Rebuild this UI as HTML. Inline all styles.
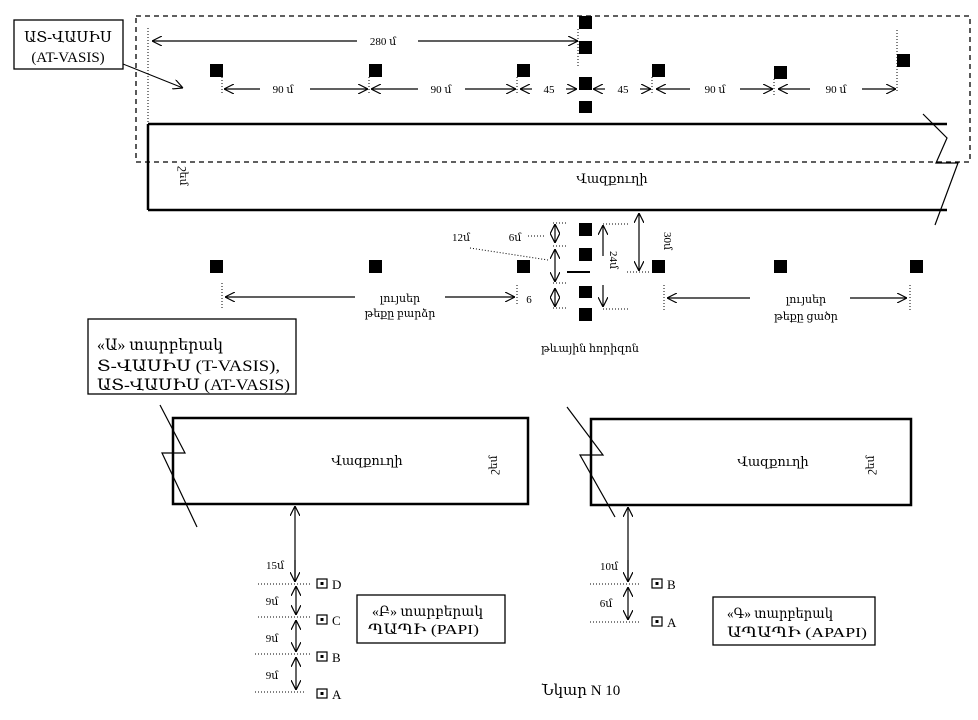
<!DOCTYPE html>
<html><head><meta charset="utf-8">
<style>
html,body{margin:0;padding:0;background:#fff;}
svg{display:block;}
text{font-family:"Liberation Serif","DejaVu Serif",serif;fill:#000;}
</style></head>
<body>
<svg width="978" height="720" viewBox="0 0 978 720" xmlns="http://www.w3.org/2000/svg">
<defs>
<marker id="a" viewBox="0 0 10 10" refX="10" refY="5" markerWidth="10" markerHeight="10" markerUnits="userSpaceOnUse" orient="auto-start-reverse">
<path d="M0,0 L10,5 L0,10" fill="none" stroke="#000" stroke-width="1.2"/>
</marker>
</defs>
<g stroke="#000" fill="none">
<rect x="136" y="16" width="834" height="146" stroke-dasharray="5,4" stroke-width="1.3"/>
<rect x="14" y="20" width="109" height="49" stroke-width="1.3" fill="#fff"/>
<line x1="123" y1="64" x2="183" y2="88" stroke-width="1" marker-end="url(#a)"/>
<line x1="148" y1="124" x2="947" y2="124" stroke-width="2.5"/>
<line x1="148" y1="210" x2="947" y2="210" stroke-width="2.5"/>
<line x1="148" y1="124" x2="148" y2="210" stroke-width="2.5"/>
<polyline points="923,114 947,138 936,163 958,163 935,225" stroke-width="1.2"/>
<g stroke-dasharray="1,2" stroke-width="1">
<line x1="148" y1="28" x2="148" y2="124"/>
<line x1="222" y1="77" x2="222" y2="95"/>
<line x1="369" y1="77" x2="369" y2="95"/>
<line x1="517" y1="77" x2="517" y2="95"/>
<line x1="578" y1="29" x2="578" y2="66"/>
<line x1="652" y1="77" x2="652" y2="95"/>
<line x1="774" y1="79" x2="774" y2="95"/>
<line x1="897" y1="30" x2="897" y2="92"/>
</g>
<line x1="152" y1="41" x2="357" y2="41" stroke-width="1.2" marker-start="url(#a)"/>
<line x1="418" y1="41" x2="578" y2="41" stroke-width="1.2" marker-end="url(#a)"/>
<g stroke-width="1.2">
<line x1="224" y1="89" x2="260" y2="89" marker-start="url(#a)"/>
<line x1="310" y1="89" x2="368" y2="89" marker-end="url(#a)"/>
<line x1="371" y1="89" x2="418" y2="89" marker-start="url(#a)"/>
<line x1="465" y1="89" x2="516" y2="89" marker-end="url(#a)"/>
<line x1="520" y1="89" x2="532" y2="89" marker-start="url(#a)"/>
<line x1="566" y1="89" x2="577" y2="89" marker-end="url(#a)"/>
<line x1="593" y1="89" x2="605" y2="89" marker-start="url(#a)"/>
<line x1="640" y1="89" x2="651" y2="89" marker-end="url(#a)"/>
<line x1="656" y1="89" x2="690" y2="89" marker-start="url(#a)"/>
<line x1="740" y1="89" x2="773" y2="89" marker-end="url(#a)"/>
<line x1="778" y1="89" x2="810" y2="89" marker-start="url(#a)"/>
<line x1="862" y1="89" x2="896" y2="89" marker-end="url(#a)"/>
</g>
<g stroke-dasharray="1,2" stroke-width="1">
<line x1="553" y1="223" x2="566" y2="223"/>
<line x1="553" y1="246" x2="566" y2="246"/>
<line x1="553" y1="283" x2="566" y2="283"/>
<line x1="553" y1="308" x2="566" y2="308"/>
<line x1="603" y1="224" x2="628" y2="224"/>
<line x1="603" y1="309" x2="628" y2="309"/>
<line x1="627" y1="272" x2="650" y2="272"/>
<line x1="470" y1="248" x2="548" y2="260"/>
<line x1="528" y1="236" x2="545" y2="236"/>
<line x1="222" y1="283" x2="222" y2="308"/>
<line x1="517" y1="285" x2="517" y2="305"/>
<line x1="664" y1="285" x2="664" y2="310"/>
<line x1="910" y1="285" x2="910" y2="310"/>
</g>
<g stroke-width="1.2">
<line x1="555" y1="224" x2="555" y2="243" marker-start="url(#a)" marker-end="url(#a)"/>
<line x1="555" y1="249" x2="555" y2="282" marker-start="url(#a)" marker-end="url(#a)"/>
<line x1="555" y1="288" x2="555" y2="307" marker-start="url(#a)" marker-end="url(#a)"/>
<line x1="603" y1="256" x2="603" y2="225" marker-end="url(#a)"/>
<line x1="603" y1="285" x2="603" y2="307" marker-end="url(#a)"/>
<line x1="639" y1="213" x2="639" y2="271" marker-start="url(#a)" marker-end="url(#a)"/>
<line x1="225" y1="297" x2="355" y2="297" marker-start="url(#a)"/>
<line x1="445" y1="297" x2="515" y2="297" marker-end="url(#a)"/>
<line x1="667" y1="298" x2="750" y2="298" marker-start="url(#a)"/>
<line x1="850" y1="298" x2="907" y2="298" marker-end="url(#a)"/>
</g>
<line x1="567" y1="272" x2="590" y2="272" stroke-width="2"/>
<rect x="88" y="319" width="208" height="75" stroke-width="1.3" fill="#fff"/>
<rect x="173" y="418" width="355" height="86" stroke-width="2.5"/>
<polyline points="160,405 185,453 162,453 197,527" stroke-width="1.2"/>
<line x1="295" y1="580" x2="295" y2="506" stroke-width="1.2" marker-end="url(#a)"/>
<rect x="591" y="419" width="320" height="86" stroke-width="2.5"/>
<polyline points="567,407 603,455 580,455 615,517" stroke-width="1.2"/>
<line x1="628" y1="582" x2="628" y2="507" stroke-width="1.2" marker-end="url(#a)"/>
<line x1="628" y1="560" x2="628" y2="582" stroke-width="1.2" marker-end="url(#a)"/>
<line x1="295" y1="560" x2="295" y2="582" stroke-width="1.2" marker-end="url(#a)"/>
<g stroke-dasharray="1,2" stroke-width="1">
<line x1="258" y1="584" x2="312" y2="584"/>
<line x1="258" y1="617" x2="312" y2="617"/>
<line x1="255" y1="654" x2="312" y2="654"/>
<line x1="255" y1="692" x2="305" y2="692"/>
<line x1="590" y1="584" x2="640" y2="584"/>
<line x1="590" y1="622" x2="640" y2="622"/>
</g>
<g stroke-width="1.2">
<line x1="296" y1="586" x2="296" y2="615" marker-start="url(#a)" marker-end="url(#a)"/>
<line x1="296" y1="620" x2="296" y2="652" marker-start="url(#a)" marker-end="url(#a)"/>
<line x1="296" y1="657" x2="296" y2="690" marker-start="url(#a)" marker-end="url(#a)"/>
<line x1="628" y1="587" x2="628" y2="620" marker-start="url(#a)" marker-end="url(#a)"/>
</g>
<g stroke-width="1.2">
<rect x="317" y="579" width="10" height="9"/>
<rect x="317" y="615" width="10" height="9"/>
<rect x="317" y="652" width="10" height="9"/>
<rect x="317" y="689" width="10" height="9"/>
<rect x="652" y="579" width="10" height="9"/>
<rect x="652" y="617" width="10" height="9"/>
</g>
<rect x="357" y="595" width="148" height="48" stroke-width="1.3"/>
<rect x="713" y="597" width="162" height="48" stroke-width="1.3"/>
</g>
<g fill="#000">
<rect x="320.5" y="582" width="3" height="3"/>
<rect x="320.5" y="618" width="3" height="3"/>
<rect x="320.5" y="655" width="3" height="3"/>
<rect x="320.5" y="692" width="3" height="3"/>
<rect x="655.5" y="582" width="3" height="3"/>
<rect x="655.5" y="620" width="3" height="3"/>
<rect x="210" y="64" width="13" height="13"/>
<rect x="369" y="64" width="13" height="13"/>
<rect x="517" y="64" width="13" height="13"/>
<rect x="579" y="16" width="13" height="13"/>
<rect x="579" y="41" width="13" height="13"/>
<rect x="579" y="77" width="13" height="13"/>
<rect x="579" y="101" width="13" height="12"/>
<rect x="652" y="64" width="13" height="13"/>
<rect x="774" y="66" width="13" height="13"/>
<rect x="897" y="54" width="13" height="13"/>
<rect x="210" y="260" width="13" height="13"/>
<rect x="369" y="260" width="13" height="13"/>
<rect x="517" y="260" width="13" height="13"/>
<rect x="579" y="223" width="13" height="13"/>
<rect x="579" y="248" width="13" height="13"/>
<rect x="579" y="286" width="13" height="12"/>
<rect x="579" y="308" width="13" height="13"/>
<rect x="652" y="260" width="13" height="13"/>
<rect x="774" y="260" width="13" height="13"/>
<rect x="910" y="260" width="13" height="13"/>
</g>
<g font-size="15">
<text x="68" y="42" text-anchor="middle">ԱՏ-ՎԱՍԻՍ</text>
<text x="68" y="62" text-anchor="middle">(AT-VASIS)</text>
</g>
<g font-size="16">
<text x="97" y="350" textLength="126" lengthAdjust="spacingAndGlyphs">«Ա» տարբերակ</text>
<text x="97" y="371" textLength="183" lengthAdjust="spacingAndGlyphs">Տ-ՎԱՍԻՍ   (T-VASIS),</text>
<text x="97" y="390" textLength="193" lengthAdjust="spacingAndGlyphs">ԱՏ-ՎԱՍԻՍ (AT-VASIS)</text>
</g>
<g font-size="11">
<text x="383" y="45" text-anchor="middle">280 մ</text>
<text x="283" y="93" text-anchor="middle">90 մ</text>
<text x="441" y="93" text-anchor="middle">90 մ</text>
<text x="549" y="93" text-anchor="middle">45</text>
<text x="623" y="93" text-anchor="middle">45</text>
<text x="715" y="93" text-anchor="middle">90 մ</text>
<text x="836" y="93" text-anchor="middle">90 մ</text>
<text x="461" y="241" text-anchor="middle">12մ</text>
<text x="515" y="241" text-anchor="middle">6մ</text>
<text x="529" y="303" text-anchor="middle">6</text>
<text x="400" y="302" text-anchor="middle">լույսեր</text>
<text x="400" y="317" text-anchor="middle">թեքը բարձր</text>
<text x="806" y="303" text-anchor="middle">լույսեր</text>
<text x="806" y="320" text-anchor="middle">թեքը ցածր</text>
<text x="590" y="352" text-anchor="middle">թևային հորիզոն</text>
<text transform="translate(610,260) rotate(90)" text-anchor="middle">24մ</text>
<text transform="translate(664,241) rotate(90)" text-anchor="middle">30մ</text>
<text transform="translate(180,176) rotate(90)" text-anchor="middle">շեմ</text>
<text transform="translate(497,465) rotate(-90)" text-anchor="middle">շեմ</text>
<text transform="translate(874,465) rotate(-90)" text-anchor="middle">շեմ</text>
<text x="275" y="569" text-anchor="middle">15մ</text>
<text x="272" y="605" text-anchor="middle">9մ</text>
<text x="272" y="642" text-anchor="middle">9մ</text>
<text x="272" y="679" text-anchor="middle">9մ</text>
<text x="609" y="570" text-anchor="middle">10մ</text>
<text x="606" y="607" text-anchor="middle">6մ</text>
</g>
<g font-size="13">
<text x="612" y="183" text-anchor="middle">Վազքուղի</text>
<text x="367" y="465" text-anchor="middle">Վազքուղի</text>
<text x="773" y="466" text-anchor="middle">Վազքուղի</text>
<text x="332" y="589">D</text>
<text x="332" y="625">C</text>
<text x="332" y="662">B</text>
<text x="332" y="699">A</text>
<text x="667" y="589">B</text>
<text x="667" y="627">A</text>
</g>
<g font-size="14">
<text x="372" y="616" textLength="111" lengthAdjust="spacingAndGlyphs">«Բ» տարբերակ</text>
<text x="368" y="634" textLength="111" lengthAdjust="spacingAndGlyphs">ՊԱՊԻ    (PAPI)</text>
<text x="727" y="618" textLength="106" lengthAdjust="spacingAndGlyphs">«Գ» տարբերակ</text>
<text x="727" y="637" textLength="140" lengthAdjust="spacingAndGlyphs">ԱՊԱՊԻ   (APAPI)</text>
</g>
<text x="581" y="695" font-size="15" text-anchor="middle">Նկար  N 10</text>
</svg>
</body></html>
